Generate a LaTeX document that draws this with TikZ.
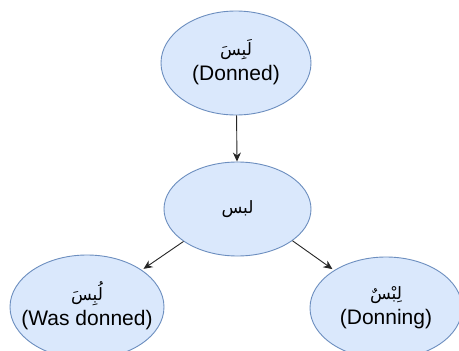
\documentclass[tikz,border=0pt]{standalone}
\usepackage{fontspec}
\setmainfont{Liberation Sans}
\newfontfamily\arabicfont[Script=Arabic]{DejaVu Sans}
\TeXXeTstate=1
\usetikzlibrary{shapes.geometric,arrows.meta}
\definecolor{nodefill}{HTML}{DAE8FC}
\definecolor{nodeline}{HTML}{6C8EBF}
\tikzset{
  wordnode/.style={ellipse, draw=nodeline, fill=nodefill, line width=0.9pt, inner xsep=-20pt, inner ysep=0pt, align=center, font=\fontsize{21}{22}\selectfont},
  link/.style={draw=black!85, line width=0.9pt, -{Stealth[length=9pt,width=8pt]}},
}
\newcommand{\ar}[1]{{\arabicfont\fontsize{17}{20}\selectfont\beginR #1\endR}}
\newcommand{\lbl}[1]{\raisebox{-3pt}{\begin{tabular}{@{}c@{}}#1\end{tabular}}}
\begin{document}
\begin{tikzpicture}[x=1pt,y=-1pt]
\fill[white] (0,0) rectangle (459,351);
\clip (0,0) rectangle (459,351);
\node[wordnode, minimum width=150pt, minimum height=104pt] (top) at (236,63) {\lbl{\ar{لَبِسَ}\\[3pt](Donned)}};
\node[wordnode, minimum width=147pt, minimum height=94pt] (mid) at (237.5,209) {\lbl{\ar{لبس}}};
\node[wordnode, minimum width=154pt, minimum height=104pt] (left) at (87,307) {\lbl{\ar{لُبِسَ}\\[3pt](Was donned)}};
\node[wordnode, minimum width=152pt, minimum height=102pt] (right) at (386,308) {\lbl{\ar{لِبْسٌ}\\[3pt](Donning)}};
\draw[link] (top) -- (mid);
\draw[link, shorten >=2pt] (mid.211) -- (left.34);
\draw[link, shorten >=2pt] (mid.330) -- (right.144);
\end{tikzpicture}
\end{document}
